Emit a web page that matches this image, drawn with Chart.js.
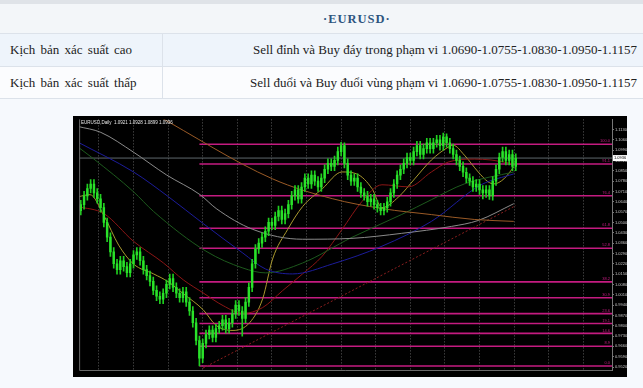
<!DOCTYPE html>
<html>
<head>
<meta charset="utf-8">
<script src="https://cdn.jsdelivr.net/npm/chart.js@4.4.0/dist/chart.umd.min.js"></script>
<style>
  html, body { margin: 0; padding: 0; }
  body { width: 643px; height: 388px; background: #f6f9fd; position: relative; overflow: hidden;
         font-family: "Liberation Serif", "Times New Roman", serif; color: #222; }
  .topbar { position: absolute; left: 0; top: 0; width: 643px; height: 4px; background: #dfe3e8; }
  .row { position: absolute; left: 0; width: 643px; border-bottom: 1px solid #dce2ea; }
  .head { top: 4px; height: 29px; background: #f3f6f9; }
  .r1 { top: 34px; height: 32px; background: #eef4fb; }
  .r2 { top: 67px; height: 31px; background: #fbfcfe; }
  .sep { position: absolute; left: 162px; width: 1px; background: #dce2ea; }
  .title { position: absolute; left: 323px; top: 12px; font-weight: bold; font-size: 12.5px; color: #2e557f; letter-spacing: 1px; }
  .lt { position: absolute; left: 10px; font-size: 13px; word-spacing: 2px; }
  .rt { position: absolute; right: 6px; font-size: 13px; }
  #wrap { position: absolute; left: 73px; top: 116px; width: 554px; height: 261px; }
</style>
</head>
<body>
<div class="topbar"></div>
<div class="row head"></div>
<div class="row r1"></div>
<div class="row r2"></div>
<div class="sep" style="top:34px;height:64px"></div>
<div class="title">·EURUSD·</div>
<div class="lt" style="top:42px">Kịch bản xác suất cao</div>
<div class="rt" style="top:42px">Sell đỉnh và Buy đáy trong phạm vi 1.0690-1.0755-1.0830-1.0950-1.1157</div>
<div class="lt" style="top:75px">Kịch bản xác suất thấp</div>
<div class="rt" style="top:75px">Sell đuổi và Buy đuổi vùng phạm vi 1.0690-1.0755-1.0830-1.0950-1.1157</div>
<div id="wrap"><canvas id="grafico" width="554" height="261"></canvas></div>

<script>
// velas de 2 dias (indice de barra)
const opens = [1.058,1.062,1.068,1.073,1.076,1.070,1.066,1.060,1.050,1.040,1.030,1.022,1.018,1.024,1.020,1.016,1.022,1.028,1.030,1.024,
  1.018,1.014,1.010,1.004,1.000,0.998,1.002,1.008,1.012,1.006,1.002,0.999,1.003,0.996,0.990,0.982,0.970,0.958,0.968,0.974,
  0.977,0.972,0.978,0.980,0.984,0.978,0.982,0.988,0.994,0.990,0.985,0.996,1.006,1.022,1.032,1.036,1.040,1.044,1.050,1.048,
  1.054,1.058,1.052,1.056,1.062,1.068,1.072,1.066,1.074,1.080,1.076,1.082,1.078,1.074,1.080,1.086,1.090,1.088,1.092,1.098,
  1.102,1.090,1.082,1.078,1.080,1.074,1.070,1.068,1.064,1.066,1.062,1.060,1.058,1.060,1.064,1.070,1.076,1.082,1.086,1.090,
  1.094,1.092,1.098,1.102,1.096,1.100,1.104,1.100,1.104,1.106,1.102,1.108,1.104,1.100,1.096,1.092,1.088,1.084,1.080,1.078,
  1.074,1.076,1.072,1.070,1.072,1.068,1.078,1.086,1.094,1.098,1.092,1.096,1.088];
const highs = [1.065,1.071,1.076,1.079,1.079,1.073,1.069,1.063,1.053,1.043,1.033,1.025,1.027,1.027,1.023,1.025,1.031,1.033,1.033,1.027,
  1.021,1.017,1.013,1.007,1.003,1.005,1.011,1.015,1.015,1.009,1.005,1.006,1.006,0.999,0.993,0.985,0.973,0.971,0.977,0.980,
  0.980,0.981,0.983,0.987,0.987,0.985,0.991,0.997,0.997,0.993,0.999,1.009,1.025,1.035,1.039,1.043,1.047,1.053,1.053,1.057,
  1.061,1.061,1.059,1.065,1.071,1.075,1.075,1.077,1.083,1.083,1.085,1.085,1.081,1.083,1.089,1.093,1.093,1.095,1.101,1.1043,
  1.104,1.093,1.085,1.083,1.083,1.077,1.073,1.071,1.069,1.069,1.065,1.063,1.063,1.067,1.073,1.079,1.085,1.089,1.093,1.097,
  1.097,1.101,1.105,1.105,1.103,1.107,1.107,1.107,1.109,1.109,1.1105,1.110,1.107,1.103,1.099,1.095,1.091,1.087,1.083,1.081,
  1.079,1.079,1.075,1.075,1.075,1.081,1.089,1.097,1.101,1.101,1.099,1.099,1.0965];
const lows = [1.055,1.059,1.065,1.070,1.067,1.063,1.057,1.047,1.037,1.027,1.019,1.015,1.015,1.017,1.013,1.013,1.019,1.025,1.021,1.015,
  1.011,1.007,1.001,0.997,0.995,0.995,0.999,1.005,1.003,0.999,0.996,0.996,0.993,0.987,0.979,0.967,0.9527,0.955,0.965,0.971,
  0.969,0.969,0.975,0.977,0.975,0.975,0.979,0.985,0.987,0.973,0.982,0.993,1.003,1.019,1.029,1.033,1.037,1.041,1.045,1.045,
  1.051,1.049,1.049,1.053,1.059,1.065,1.063,1.063,1.071,1.073,1.073,1.075,1.071,1.071,1.077,1.083,1.085,1.085,1.089,1.095,
  1.087,1.079,1.075,1.075,1.071,1.067,1.065,1.061,1.061,1.059,1.057,1.055,1.055,1.057,1.061,1.067,1.073,1.079,1.083,1.087,
  1.089,1.089,1.095,1.093,1.093,1.097,1.097,1.097,1.101,1.099,1.099,1.101,1.097,1.093,1.089,1.085,1.081,1.077,1.075,1.071,
  1.071,1.069,1.066,1.067,1.0655,1.065,1.075,1.083,1.091,1.089,1.089,1.085,1.085];
const closes = [1.062,1.068,1.073,1.076,1.070,1.066,1.060,1.050,1.040,1.030,1.022,1.018,1.024,1.020,1.016,1.022,1.028,1.030,1.024,1.018,
  1.014,1.010,1.004,1.000,0.998,1.002,1.008,1.012,1.006,1.002,0.999,1.003,0.996,0.990,0.982,0.970,0.958,0.968,0.974,0.977,
  0.972,0.978,0.980,0.984,0.978,0.982,0.988,0.994,0.990,0.985,0.996,1.006,1.022,1.032,1.036,1.040,1.044,1.050,1.048,1.054,
  1.058,1.052,1.056,1.062,1.068,1.072,1.066,1.074,1.080,1.076,1.082,1.078,1.074,1.080,1.086,1.090,1.088,1.092,1.098,1.102,
  1.090,1.082,1.078,1.080,1.074,1.070,1.068,1.064,1.066,1.062,1.060,1.058,1.060,1.064,1.070,1.076,1.082,1.086,1.090,1.094,
  1.092,1.098,1.102,1.096,1.100,1.104,1.100,1.104,1.106,1.102,1.108,1.104,1.100,1.096,1.092,1.088,1.084,1.080,1.078,1.074,
  1.076,1.072,1.070,1.072,1.068,1.078,1.086,1.094,1.098,1.092,1.096,1.088,1.0936];

// medias moviles: [indice de barra, precio]
const maGris = [[-0.8,1.1150],[6.1,1.1110],[16,1.0976],[26,1.0822],[36.2,1.0688],[41.1,1.0594],[52.2,1.0453],[67.3,1.0386],
  [82.3,1.0392],[97.4,1.0426],[112.5,1.0473],[120.6,1.0513],[131.4,1.0627]];
const maMarron = [[22.1,1.1238],[58.2,1.0795],[76.3,1.0661],[91.4,1.0594],[106.4,1.0553],[119.4,1.0520],[131.4,1.0507]];
const maAzul = [[-0.8,1.1043],[16,1.0842],[26.6,1.0674],[37.1,1.0493],[49.2,1.0292],[56.1,1.0184],[64.3,1.0151],[76.3,1.0218],
  [91.4,1.0339],[106.4,1.0507],[121.5,1.0755],[131.4,1.0829]];
const maVerde = [[-0.8,1.1010],[4,1.0929],[16,1.0708],[22.1,1.0574],[38,1.0305],[49.2,1.0191],[56.1,1.0158],[67.3,1.0225],
  [82.3,1.0399],[97.4,1.0554],[106.4,1.0654],[116.4,1.0761],[131.4,1.0842]];
const maRoja = [[-0.8,1.0607],[7,1.0560],[16,1.0372],[25.1,1.0225],[31.1,1.0111],[37.1,1.0023],[43.2,0.9936],[49.2,0.9883],
  [55.2,0.9923],[61.2,1.0037],[67.3,1.0151],[73.3,1.0272],[79.3,1.0453],[85.3,1.0641],[91.4,1.0755],[99.5,1.0741],
  [106.4,1.0842],[111.5,1.0909],[119.4,1.0929],[124.5,1.0923],[131.4,1.0896]];
const maAmarilla = [[-0.8,1.0674],[2.8,1.0688],[7,1.0547],[11.5,1.0346],[16,1.0218],[22.1,1.0151],[26.6,1.0097],[31.1,1.0017],
  [37.1,0.9909],[41.1,0.9802],[46.2,0.9768],[51.3,0.9822],[55.2,0.9983],[58.2,1.0252],[62.8,1.0453],[67.3,1.0607],
  [73.3,1.0728],[79.3,1.0842],[83.8,1.0828],[88.4,1.0728],[91.4,1.0600],[96.5,1.0674],[101.3,1.0795],[106.4,1.0923],
  [111.5,1.1010],[113,1.1023],[116.4,1.0956],[120.6,1.0842],[123.6,1.0775],[125.4,1.0761],[128.4,1.0795],[131.4,1.0876]];
const tendencia = [[37.1,0.9513],[132,1.0614]];

// niveles fibo (magenta) desde el minimo
const fiboInicio = 36;
const fiboNiveles = [1.1030,1.0896,1.0681,1.0460,1.0325,1.0097,0.9990,0.9882,0.9815,0.9748,0.9661,0.9527];
const fiboEtiquetas = ["100.0","91.1","76.4","61.8","52.8","38.2","30.9","23.6","19.1","14.6","8.9","0.0"];
const precioActual = 1.0936;

// ejes
const yTicks = [0.9520,0.9590,0.9660,0.9730,0.9800,0.9870,0.9940,1.0010,1.0080,1.0150,1.0220,1.0290,1.0360,1.0430,
  1.0500,1.0570,1.0640,1.0710,1.0780,1.0850,1.0920,1.0990,1.1060,1.1130];
const gridTicks = [5.5,16,26.5,37,47.5,58,68.5,79,89.5,100,110.5,121,131.5,142,152.5];
const dateTicks = [1,8,15,21,28,35,40,47,54,60,67,73,79,86,91,98,104,111,117,124,130];
const dateLabels = ["15 Jun 2022","5 Jul 2022","25 Jul 2022","10 Aug 2022","29 Aug 2022","16 Sep 2022","5 Oct 2022",
  "24 Oct 2022","11 Nov 2022","30 Nov 2022","19 Dec 2022","5 Jan 2023","27 Jan 2023","15 Feb 2023","8 Mar 2023",
  "28 Mar 2023","12 Apr 2023","1 May 2023","18 May 2023","7 Jun 2023","27 Jun 2023"];

const X_MIN = -0.5, X_MAX = 161.2;

function lineaMA(puntos, color, extra) {
  return Object.assign({
    type: "line",
    data: puntos.map(p => ({ x: p[0], y: p[1] })),
    borderColor: color,
    borderWidth: 1,
    pointRadius: 0,
    cubicInterpolationMode: "monotone",
    order: 3
  }, extra || {});
}

const datasets = [];

// niveles fibo
fiboNiveles.forEach(v => {
  datasets.push({
    type: "line",
    data: [{ x: fiboInicio, y: v }, { x: X_MAX, y: v }],
    borderColor: "#c41b80",
    borderWidth: 1.6,
    pointRadius: 0,
    order: 5
  });
});
// linea de precio actual
datasets.push({
  type: "line",
  data: [{ x: X_MIN, y: precioActual }, { x: X_MAX, y: precioActual }],
  borderColor: "#5f676d",
  borderWidth: 1,
  pointRadius: 0,
  order: 6
});

datasets.push(lineaMA(maMarron, "#9a5a26"));
datasets.push(lineaMA(maGris, "#8a8a8a"));
datasets.push(lineaMA(maAzul, "#1c1c9a"));
datasets.push(lineaMA(maVerde, "#1d5a1d"));
datasets.push(lineaMA(maRoja, "#8c1616"));
datasets.push(lineaMA(maAmarilla, "#a8982e"));
datasets.push(lineaMA(tendencia, "#8a1e1e", { borderDash: [2, 2], cubicInterpolationMode: "default", tension: 0 }));

// mechas y cuerpos
datasets.push({
  type: "bar",
  data: closes.map((c, i) => ({ x: i, y: [lows[i], highs[i]] })),
  backgroundColor: "#1fcf1f",
  barThickness: 1,
  grouped: false,
  order: 2
});
datasets.push({
  type: "bar",
  data: closes.map((c, i) => ({ x: i, y: [opens[i], c] })),
  backgroundColor: "#2ae22a",
  barThickness: 1.8,
  minBarLength: 1,
  grouped: false,
  order: 1
});

const fondo = {
  id: "fondo",
  beforeDraw(chart) {
    const c = chart.ctx;
    c.save();
    c.fillStyle = "#000";
    c.fillRect(0, 0, chart.width, chart.height);
    c.restore();
  },
  afterDraw(chart) {
    const c = chart.ctx, a = chart.chartArea, y = chart.scales.y;
    c.save();
    // bordes del area
    c.strokeStyle = "#6a6a6a";
    c.lineWidth = 1;
    c.beginPath();
    c.moveTo(a.left + 0.5, a.top);
    c.lineTo(a.left + 0.5, a.bottom + 0.5);
    c.lineTo(a.right, a.bottom + 0.5);
    c.stroke();
    // etiquetas fibo
    c.font = "4px 'Liberation Sans'";
    c.fillStyle = "#c41b80";
    c.textAlign = "right";
    c.textBaseline = "bottom";
    fiboNiveles.forEach((v, i) => c.fillText(fiboEtiquetas[i], a.right - 2, y.getPixelForValue(v) - 1));
    // caja de precio
    const py = y.getPixelForValue(precioActual);
    c.fillStyle = "#fff";
    c.fillRect(a.right + 1, py - 3, 14, 6);
    c.fillStyle = "#000";
    c.textAlign = "left";
    c.textBaseline = "middle";
    c.fillText(precioActual.toFixed(4), a.right + 2, py);
    // leyenda
    c.fillStyle = "#e6e6e6";
    c.textBaseline = "top";
    c.font = "4.5px 'Liberation Sans'";
    c.fillText("EURUSD,Daily  1.0921 1.0928 1.0899 " + precioActual.toFixed(4), a.left + 2, a.top + 1);
    c.restore();
  }
};

new Chart(document.getElementById("grafico"), {
  type: "bar",
  data: { datasets },
  options: {
    responsive: false,
    animation: false,
    events: [],
    layout: { padding: { left: 2, top: 1, right: 0, bottom: 0 } },
    plugins: { legend: { display: false }, tooltip: { enabled: false } },
    scales: {
      x: {
        type: "linear", min: X_MIN, max: X_MAX, position: "bottom", offset: false,
        afterBuildTicks: s => { s.ticks = gridTicks.map(v => ({ value: v })); },
        afterFit: s => { s.height = 0; },
        ticks: { display: false },
        grid: { color: "#5c5c5c", lineWidth: 1, drawTicks: false, offset: false },
        border: { display: false, dash: [1, 2] }
      },
      x2: {
        type: "linear", min: X_MIN, max: X_MAX, position: "bottom", offset: false,
        afterBuildTicks: s => { s.ticks = dateTicks.map(v => ({ value: v })); },
        afterFit: s => { s.height = 7; },
        ticks: {
          autoSkip: false, maxRotation: 0, padding: 0, color: "#d0d0d0",
          font: { size: 4, family: "Liberation Sans" },
          callback: (v, i) => dateLabels[i]
        },
        grid: { display: false, offset: false },
        border: { display: false }
      },
      y: {
        type: "linear", min: 0.95, max: 1.1198, position: "right",
        afterBuildTicks: s => { s.ticks = yTicks.map(v => ({ value: v })); },
        afterFit: s => { s.width = 15; },
        ticks: {
          autoSkip: false, padding: 1, color: "#c8c8c8",
          font: { size: 4, family: "Liberation Sans" },
          callback: v => Number(v).toFixed(4)
        },
        grid: { drawOnChartArea: false, drawTicks: true, tickLength: 2, color: "#777" },
        border: { color: "#777" }
      }
    }
  },
  plugins: [fondo]
});
</script>
</body>
</html>
